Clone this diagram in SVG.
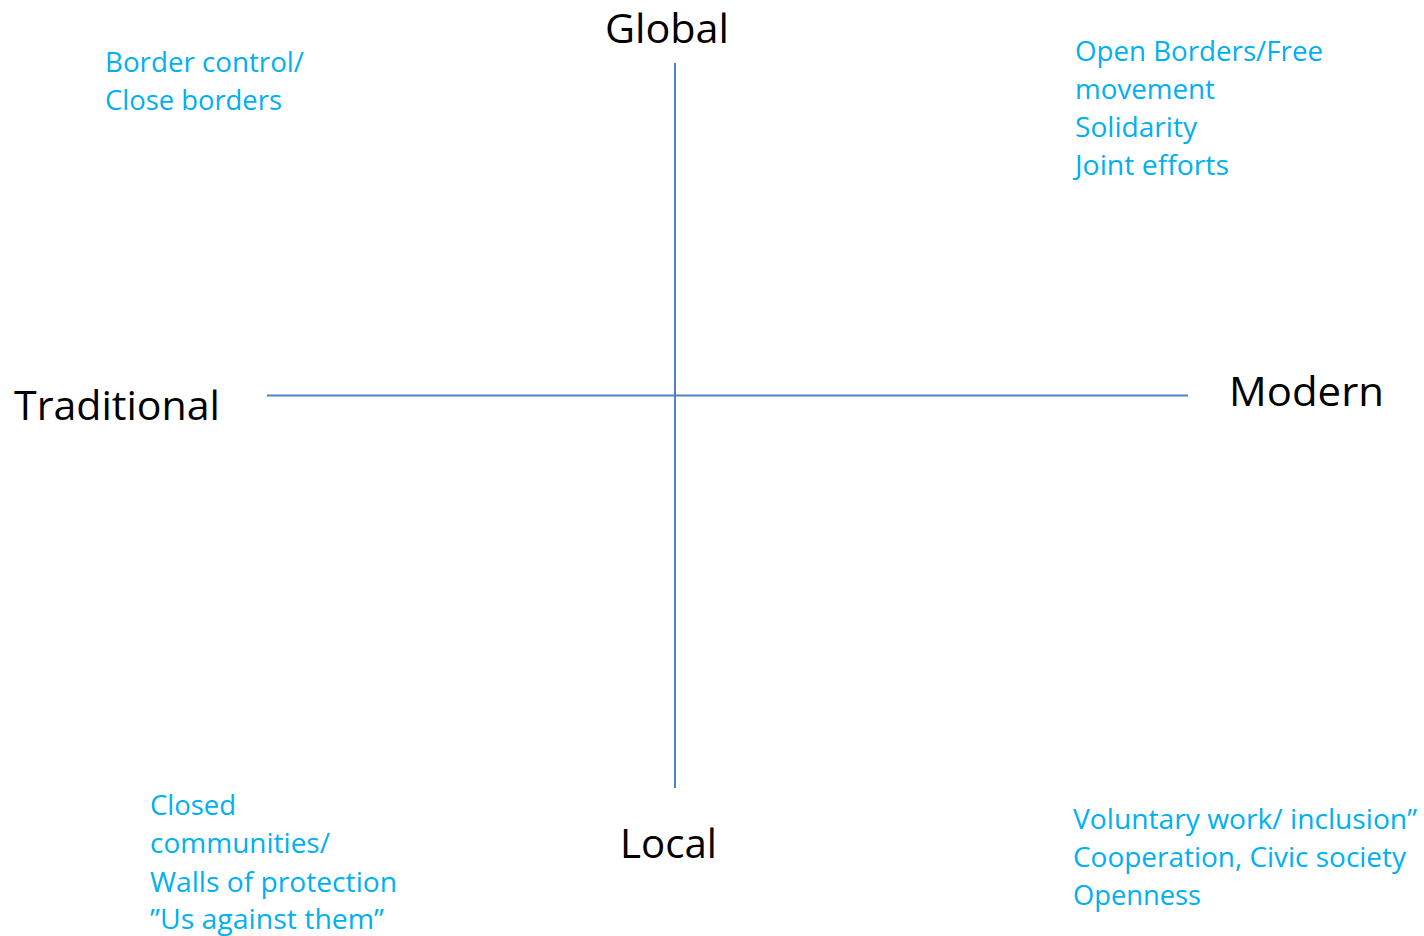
<svg xmlns="http://www.w3.org/2000/svg" width="1424" height="936" viewBox="0 0 1424 936">
<style>
.ax{stroke:#4F81BD;stroke-width:2;fill:none}
.lbl{font-family:"Open Sans","Noto Sans",sans-serif;font-size:40px;fill:#000}
.note{font-family:"Open Sans","Noto Sans",sans-serif;font-size:27px;fill:#00B0F0}
</style>
<rect width="1424" height="936" fill="#fff"/>
<g id="connectors">
<line class="ax" x1="675" y1="63" x2="675" y2="788"/>
<line class="ax" x1="267" y1="395.5" x2="1188" y2="395.5"/>
</g>
<g id="global"><text class="lbl" x="605" y="43" textLength="124" lengthAdjust="spacingAndGlyphs">Global</text></g>
<g id="traditional"><text class="lbl" x="14" y="420" textLength="206" lengthAdjust="spacingAndGlyphs">Traditional</text></g>
<g id="modern"><text class="lbl" x="1229" y="406" textLength="155" lengthAdjust="spacingAndGlyphs">Modern</text></g>
<g id="local"><text class="lbl" x="620" y="858" textLength="97" lengthAdjust="spacingAndGlyphs">Local</text></g>
<g id="top-left">
<text class="note" x="105" y="72" textLength="199" lengthAdjust="spacingAndGlyphs">Border control/</text>
<text class="note" x="105" y="110" textLength="177" lengthAdjust="spacingAndGlyphs">Close borders</text>
</g>
<g id="top-right">
<text class="note" x="1075" y="61" textLength="248" lengthAdjust="spacingAndGlyphs">Open Borders/Free</text>
<text class="note" x="1075" y="99" textLength="140" lengthAdjust="spacingAndGlyphs">movement</text>
<text class="note" x="1075" y="137" textLength="122" lengthAdjust="spacingAndGlyphs">Solidarity</text>
<text class="note" x="1075" y="175" textLength="154" lengthAdjust="spacingAndGlyphs">Joint efforts</text>
</g>
<g id="bottom-left">
<text class="note" x="150" y="815" textLength="86" lengthAdjust="spacingAndGlyphs">Closed</text>
<text class="note" x="150" y="853" textLength="180" lengthAdjust="spacingAndGlyphs">communities/</text>
<text class="note" x="150" y="892" textLength="247" lengthAdjust="spacingAndGlyphs">Walls of protection</text>
<text class="note" x="150" y="929" textLength="234" lengthAdjust="spacingAndGlyphs">”Us against them”</text>
</g>
<g id="bottom-right">
<text class="note" x="1073" y="829" textLength="344" lengthAdjust="spacingAndGlyphs">Voluntary work/ inclusion”</text>
<text class="note" x="1073" y="867" textLength="333" lengthAdjust="spacingAndGlyphs">Cooperation, Civic society</text>
<text class="note" x="1073" y="905" textLength="128" lengthAdjust="spacingAndGlyphs">Openness</text>
</g>
</svg>
